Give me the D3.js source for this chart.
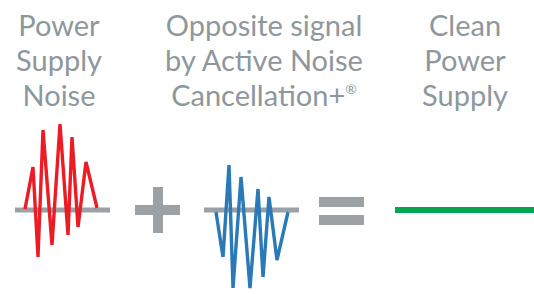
<!DOCTYPE html>
<html>
<head>
<meta charset="utf-8">
<script src="https://cdnjs.cloudflare.com/ajax/libs/d3/7.8.5/d3.min.js"></script>
<style>
  body { margin: 0; background: #fff; }
</style>
</head>
<body>
<div id="container"></div>
<script>
// Labels, one column per stage
var noiseLabel = ["Power", "Supply", "Noise"];
var ancLabel = ["Opposite signal", "by Active Noise", "Cancellation+"];
var cleanLabel = ["Clean", "Power", "Supply"];

// Waveform samples: t = position along the panel (0-95), a = amplitude (up is positive)
var noiseT = [10, 18, 23, 28, 37, 45, 53, 57, 63, 71, 82];
var noiseA = [1, 43, -47, 80, -35, 86, -25, 73, -17, 48, 2];
var ancT = [12, 19, 25, 29, 37, 46, 54, 59, 65, 73, 84];
var ancA = [-2, -47, 45, -78, 33, -78, 21, -67, 13, -50, -2];
var cleanA = [0, 0];

var w = 534, h = 294;
var textColor = "#8e979c";
var axisColor = "#9ba1a5";

var svg = d3.select("#container").append("svg")
    .attr("width", w)
    .attr("height", h);

// shared amplitude scale, baseline at y=210
var y = d3.scaleLinear().domain([-100, 100]).range([310, 110]);

function label(lines, cx) {
    var t = svg.append("text")
        .attr("text-anchor", "middle")
        .attr("font-family", "Lato, 'Open Sans', sans-serif")
        .attr("font-size", 29)
        .attr("fill", textColor);
    lines.forEach(function(s, i) {
        t.append("tspan").attr("x", cx).attr("y", 36 + i * 35).text(s);
    });
    return t;
}

label(noiseLabel, 59);
var anc = label(ancLabel, 264);
anc.select("tspan:last-child").append("tspan")
    .attr("font-size", 14).attr("dy", -12).text("®");
label(cleanLabel, 465);

function wave(t, a, x0, x1, color) {
    var x = d3.scaleLinear().domain([0, 95]).range([x0, x1]);
    // baseline
    svg.append("line")
        .attr("x1", x(0)).attr("x2", x(95))
        .attr("y1", y(0)).attr("y2", y(0))
        .attr("stroke", axisColor).attr("stroke-width", 5);
    var line = d3.line()
        .x(function(d, i) { return x(t[i]); })
        .y(function(d) { return y(d); });
    svg.append("path")
        .datum(a)
        .attr("d", line)
        .attr("fill", "none")
        .attr("stroke", color)
        .attr("stroke-width", 3.4)
        .attr("stroke-linejoin", "miter");
}

wave(noiseT, noiseA, 15, 110, "#ed1c24");
wave(ancT, ancA, 204, 299, "#2a7ab8");

// plus sign
svg.append("rect").attr("x", 135).attr("y", y(0) - 5).attr("width", 45).attr("height", 10).attr("fill", axisColor);
svg.append("rect").attr("x", 153).attr("y", y(0) - 23).attr("width", 10).attr("height", 46).attr("fill", axisColor);

// equals sign
svg.append("rect").attr("x", 319).attr("y", 197).attr("width", 45).attr("height", 10).attr("fill", axisColor);
svg.append("rect").attr("x", 319).attr("y", 215).attr("width", 45).attr("height", 10).attr("fill", axisColor);

// clean output
var xc = d3.scaleLinear().domain([0, 1]).range([395, 534]);
svg.append("path")
    .datum(cleanA)
    .attr("d", d3.line().x(function(d, i) { return xc(i); }).y(function(d) { return y(d); }))
    .attr("stroke", "#00a651")
    .attr("stroke-width", 6);
</script>
</body>
</html>
